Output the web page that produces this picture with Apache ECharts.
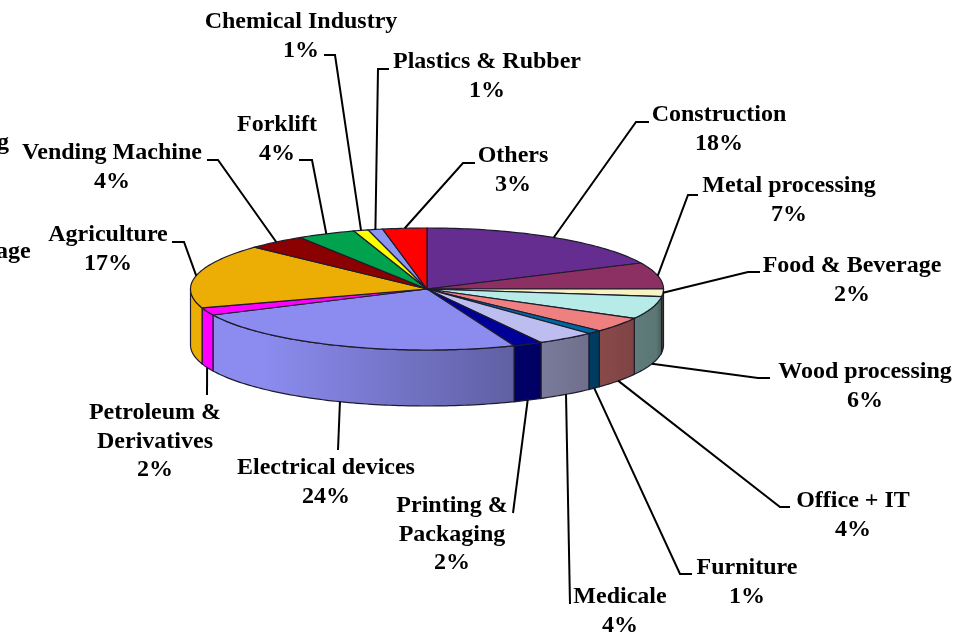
<!DOCTYPE html>
<html>
<head>
<meta charset="utf-8">
<title>Pie</title>
<script src="https://cdn.jsdelivr.net/npm/echarts@6/dist/echarts.min.js"></script>
<style>
html, body { margin: 0; padding: 0; background: #fff; }
#main { width: 972px; height: 635px; }
</style>
</head>
<body>
<div id="main"></div>
<script>
// clockwise from 12 o'clock
var categories = ['Construction', 'Metal processing', 'Food & Beverage', 'Wood processing', 'Office + IT', 'Furniture',
    'Medicale', 'Printing &\nPackaging', 'Electrical devices', 'Petroleum &\nDerivatives', 'Agriculture',
    'Vending Machine', 'Forklift', 'Chemical Industry', 'Plastics & Rubber', 'Others'];
var shares = [18, 7, 2, 6, 4, 1, 4, 2, 24, 2, 17, 4, 4, 1, 1, 3];
// the two labels that run off the left edge of the picture
var cutLabels = ['g', 'age'];

var colors = ['#662d91', '#8c2f63', '#f6f2c2', '#b6ebe8', '#ef8080', '#0067a5', '#bdbdf0', '#000099', '#8c8cf0',
    '#ff00ff', '#ecae05', '#8b0000', '#00a24d', '#ffff00', '#8c96f0', '#ff0000'];

// pie shape
var cx = 427, cy = 289, rx = 236.5, ry = 61, depth = 56;

// label centres: x, y of the first line
var labelPos = [[719, 114], [789, 185], [852, 265], [865, 371], [853, 500], [747, 567], [620, 596], [452, 505],
    [326, 467], [155, 412], [108, 234], [112, 152], [277, 124], [301, 21], [487, 61], [513, 155]];
// leader lines: from slice edge to these points
var leaderPts = [
    [[636, 122], [649, 122]], [[688, 195], [698, 195]], [[748, 272], [760, 272]], [[758, 378], [770, 378]],
    [[780, 507], [790, 507]], [[680, 574], [692, 574]], [[570, 604]], [[513, 513]],
    [[338, 450]], [[207, 395]], [[184, 242], [172, 242]], [[218, 160], [207, 160]],
    [[312, 160], [299, 160]], [[335, 55], [324, 55]], [[378, 69], [389, 69]], [[463, 163], [475, 163]]
];

var total = shares.reduce(function (a, b) { return a + b; }, 0);
var starts = [];
shares.reduce(function (sum, v) { starts.push(sum); return sum + v; }, 0);

function toAngle(v) { return v / total * 2 * Math.PI; }
function edge(a, dy) { return [cx + rx * Math.sin(a), cy - ry * Math.cos(a) + (dy || 0)]; }

function shade(hex, k) {
    var n = parseInt(hex.slice(1), 16);
    return 'rgb(' + Math.round((n >> 16) * k) + ',' + Math.round(((n >> 8) & 255) * k) + ',' + Math.round((n & 255) * k) + ')';
}

var textStyle = { font: 'bold 24px "Liberation Serif", serif', fill: '#000', align: 'center', verticalAlign: 'top', lineHeight: 28.5 };

function renderSlice(params, api) {
    var i = params.dataIndex;
    var a0 = toAngle(starts[i]), a1 = toAngle(starts[i] + api.value(0));
    var mid = (a0 + a1) / 2;
    // Food & Beverage sits right on the rim, its leader leaves from the top edge
    var isFront = mid > Math.PI * 0.55 && mid < Math.PI * 1.5;
    var top = [[cx, cy]], children = [];
    var steps = Math.max(2, Math.ceil((a1 - a0) / 0.02)), s;
    for (s = 0; s <= steps; s++) {
        top.push(edge(a0 + (a1 - a0) * s / steps));
    }

    // side wall, only the part facing us
    var w0 = Math.max(a0, Math.PI / 2), w1 = Math.min(a1, Math.PI * 1.5);
    if (w1 > w0) {
        var wall = [];
        for (s = 0; s <= steps; s++) wall.push(edge(w0 + (w1 - w0) * s / steps));
        for (s = steps; s >= 0; s--) wall.push(edge(w0 + (w1 - w0) * s / steps, depth));
        var c = colors[i];
        children.push({
            type: 'polygon',
            shape: { points: wall },
            style: {
                fill: new echarts.graphic.LinearGradient(cx - rx, 0, cx + rx, 0, [
                    { offset: 0, color: shade(c, 1) },
                    { offset: 0.15, color: shade(c, 1) },
                    { offset: 0.985, color: shade(c, 0.5) },
                    { offset: 1, color: shade(c, 0.35) }
                ], true),
                stroke: '#1c1c2c',
                lineWidth: 1.2
            }
        });
    }

    children.push({
        type: 'polygon',
        shape: { points: top },
        style: { fill: colors[i], stroke: '#1c1c2c', lineWidth: 1.2 }
    });

    // leader line
    var from = edge(mid, isFront ? depth : 0);
    children.push({
        type: 'polyline',
        shape: { points: [from].concat(leaderPts[i]) },
        style: { fill: null, stroke: '#000', lineWidth: 2 },
        z2: 5
    });

    children.push({
        type: 'text',
        z2: 6,
        style: echarts.util.extend({
            x: labelPos[i][0],
            y: labelPos[i][1] - 13,
            text: api.value(1) + '\n' + api.value(0) + '%'
        }, textStyle)
    });
    return { type: 'group', children: children };
}

var myChart = echarts.init(document.getElementById('main'), null, { renderer: 'canvas' });
var option = {
    backgroundColor: '#fff',
    animation: false,
    series: [
        {
            type: 'custom',
            coordinateSystem: 'none',
            renderItem: renderSlice,
            encode: { value: 0 },
            data: shares.map(function (v, i) { return [v, categories[i]]; })
        }
    ],
    graphic: [
        { type: 'text', x: -3, y: 131, style: { text: cutLabels[0], font: textStyle.font, fill: '#000' } },
        { type: 'text', x: -4, y: 240, style: { text: cutLabels[1], font: textStyle.font, fill: '#000' } }
    ]
};
myChart.setOption(option);
</script>
</body>
</html>
